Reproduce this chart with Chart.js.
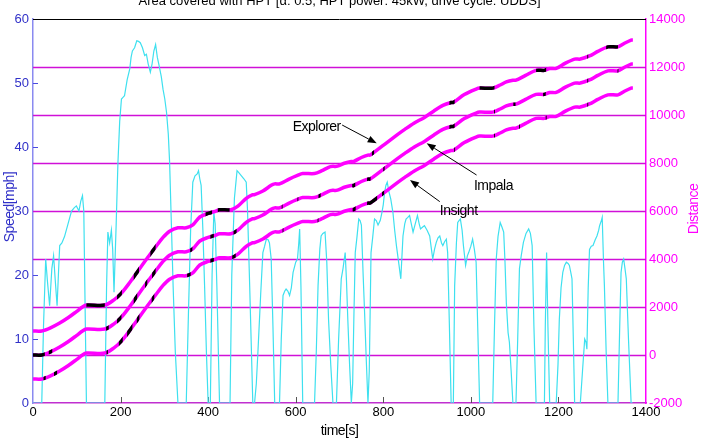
<!DOCTYPE html>
<html>
<head>
<meta charset="utf-8">
<script src="https://cdn.jsdelivr.net/npm/chart.js@4"></script>
<style>
	html, body { margin: 0; padding: 0; background: #fff; }
	#wrap { width: 702px; height: 440px; position: relative; }
</style>
</head>
<body>
<div id="wrap"><canvas id="hptChart"></canvas></div>
<script>
// speed trace of the UDDS cycle, [time s, speed mph]
const speedCycle = [
	[0,0],[20,0],[24,12],[29,22.5],[33,19],[38,15.2],[43,21],[47,23],[51,19],[55,15.2],
	[58,20],[61,24.6],[66,25],[72,26],[80,28],[88,30],[94,30.5],[99,30.8],[105,30],[109,31.5],
	[113,32.4],[116,30],[119,15],[122,0],[164,0],[168,18],[171,26.7],[175,25],[179,27],[182,24],
	[185,17.3],[190,28],[194,37.6],[198,44],[202,47.5],[206,47.8],[209,48],[215,50.5],[221,52.2],[224,54],
	[227,55],[232,55.5],[237,56.6],[241,56.5],[245,56.3],[250,55.5],[255,54.3],[259,54.5],[263,53],[268,51.7],
	[272,53],[276,55],[280,56],[284,54],[288,52.7],[293,51],[297,49],[301,47.5],[305,45.4],[309,42],
	[312,37.6],[316,28],[320,18.3],[325,8],[331,0],[350,0],[355,14],[360,27],[365,34.5],[370,35.5],
	[375,35.8],[378,36.3],[381,35],[384,34],[388,27],[392,18],[396,8],[400,0],[405,0],[409,20],
	[413,29.8],[416,28],[420,18],[426,0],[450,0],[454,20],[460,32],[466,36.3],[470,36],[476,35.5],
	[482,35],[487,34.5],[490,30],[495,18],[502,0],[506,0],[510,3],[514,8.4],[520,17],[525,23.5],
	[529,24.5],[533,25.6],[537,25.5],[540,25],[544,22.5],[548,12],[552,0],[563,0],[567,10],[571,16.8],
	[575,17.5],[578,17.8],[582,17.5],[586,16.8],[590,18],[594,20.4],[600,22],[604,22.5],[607,25],[609,27.2],
	[612,18],[616,0],[643,0],[647,8],[651,18.3],[655,24],[658,26.1],[662,26.5],[667,26.7],[671,22],
	[675,13],[680,6],[685,0],[693,0],[698,10],[704,19.4],[708,21],[713,23.5],[716,19],[719,13],
	[723,6],[727,0],[730,3],[733,14],[736,23.5],[740,26],[744,28.75],[747,28.5],[750,27.8],[754,20],
	[757,14.7],[761,7],[765,0],[768,5],[772,23.5],[776,26],[780,28.75],[784,28.5],[788,27.8],[793,28.5],
	[797,29.8],[800,31],[803,32.9],[806,34],[809,34.5],[813,33],[817,31.9],[822,29.8],[826,27],[830,24.6],
	[835,22],[840,19.4],[845,26.1],[849,28],[852,28.75],[856,29],[860,29.3],[864,28],[868,26.7],[873,28],
	[878,29.3],[882,28],[885,27.2],[890,27.5],[894,27.7],[900,27],[906,26.1],[910,24],[913,22.5],[917,24],
	[921,25.1],[925,25.8],[929,26.1],[933,25],[936,24.6],[940,25.2],[944,25.6],[947,23.5],[951,12],[955,0],
	[960,0],[963,18.3],[967,25],[970,28.2],[973,28.5],[976,28.75],[980,27],[983,24.6],[988,21.5],[992,23],
	[995,23.5],[1000,24.5],[1004,25.6],[1008,24],[1012,22],[1016,11],[1020,0],[1050,0],[1054,12],[1058,22.5],
	[1062,26],[1067,28.2],[1071,27.5],[1075,26.7],[1078,22],[1081,15.7],[1085,11],[1088,9.5],[1092,5],[1096,0],
	[1103,0],[1107,10],[1111,21],[1115,23],[1120,25.1],[1126,26.5],[1132,27.2],[1136,26.5],[1140,24.6],[1144,12],
	[1149,0],[1168,0],[1170,12],[1173,23.5],[1176,12],[1180,0],[1195,0],[1199,6],[1202,13],[1206,18],
	[1210,20.4],[1214,21.5],[1218,22],[1222,21.8],[1225,21.5],[1228,20.5],[1231,19.4],[1234,10],[1237,0],[1250,0],
	[1255,5],[1260,10],[1263,9.5],[1265,8.4],[1268,18],[1271,24],[1275,24.5],[1279,24.6],[1284,25.5],[1288,26.1],
	[1292,27],[1294,27.7],[1298,28.5],[1300,29],[1303,22],[1305,18.3],[1309,8],[1313,0],[1336,0],[1340,12],
	[1343,20.4],[1346,22],[1349,22.5],[1352,21],[1355,19.4],[1360,10],[1366,0],[1370,0]
];

// distance curves (right axis)
const distTime = [
	0, 20, 40, 60, 80, 100, 113, 122, 164, 185,
	202, 221, 237, 259, 280, 297, 312, 331, 350, 365,
	381, 400, 415, 426, 452, 468, 487, 502, 506, 525,
	544, 552, 563, 585, 604, 616, 643, 660, 675, 685,
	693, 713, 727, 732, 750, 765, 770, 803, 830, 849,
	870, 894, 915, 936, 955, 960, 985, 1012, 1020, 1050,
	1067, 1081, 1096, 1103, 1125, 1149, 1168, 1180, 1195, 1215,
	1237, 1250, 1271, 1290, 1313, 1336, 1350, 1366, 1370
];
const explorerDist = [
	1000, 1000, 1130, 1320, 1550, 1820, 2000, 2080, 2080, 2300,
	2580, 3020, 3430, 3990, 4500, 4900, 5160, 5300, 5300, 5420,
	5750, 5900, 5980, 6050, 6050, 6200, 6530, 6680, 6680, 6830,
	7070, 7130, 7130, 7330, 7480, 7560, 7560, 7680, 7820, 7860,
	7860, 8000, 8060, 8060, 8230, 8330, 8330, 8780, 9150, 9400,
	9660, 9900, 10160, 10400, 10520, 10520, 10850, 11080, 11120, 11120,
	11250, 11380, 11450, 11450, 11650, 11860, 11860, 11940, 11940, 12150,
	12330, 12330, 12460, 12650, 12840, 12840, 12980, 13120, 13120
];
const impalaDist = [
	0, 0, 130, 320, 550, 820, 1000, 1080, 1080, 1300,
	1580, 2020, 2430, 2990, 3500, 3900, 4160, 4300, 4300, 4420,
	4750, 4900, 4980, 5050, 5050, 5200, 5530, 5680, 5680, 5830,
	6070, 6130, 6130, 6330, 6480, 6560, 6560, 6680, 6820, 6860,
	6860, 7000, 7060, 7060, 7230, 7330, 7330, 7780, 8150, 8400,
	8660, 8900, 9160, 9400, 9520, 9520, 9850, 10080, 10120, 10120,
	10250, 10380, 10450, 10450, 10650, 10860, 10860, 10940, 10940, 11150,
	11330, 11330, 11460, 11650, 11840, 11840, 11980, 12120, 12120
];
const insightDist = [
	-1000, -1000, -870, -680, -450, -180, 0, 80, 80, 300,
	580, 1020, 1430, 1990, 2500, 2900, 3160, 3300, 3300, 3420,
	3750, 3900, 3980, 4050, 4050, 4200, 4530, 4680, 4680, 4830,
	5070, 5130, 5130, 5330, 5480, 5560, 5560, 5680, 5820, 5860,
	5860, 6000, 6060, 6060, 6230, 6330, 6330, 6780, 7150, 7400,
	7660, 7900, 8160, 8400, 8520, 8520, 8850, 9080, 9120, 9120,
	9250, 9380, 9450, 9450, 9650, 9860, 9860, 9940, 9940, 10150,
	10330, 10330, 10460, 10650, 10840, 10840, 10980, 11120, 11120
];

// time spans where the curve is drawn black (HPT on)
const explorerHpt = [[122,164],[192,203],[230,242],[268,280],[394,409],[422,449],[774,779],[951,963],[1020,1054],[1149,1172],[1266,1268],[1309,1336]];
const impalaHpt = [[0,27],[36,44],[167,173],[192,202],[230,238],[256,261],[272,280],[359,364],[405,413],[458,465],[568,570],[604,606],[652,657],[729,736],[763,771],[800,803],[951,963],[1053,1055],[1097,1102],[1165,1171],[1266,1268],[1335,1337]];
const insightHpt = [[24,29],[48,55],[168,171],[196,205],[215,227],[237,243],[271,277],[352,360],[405,413],[455,463],[570,572],[650,652],[730,737],[763,786],[797,802],[962,964],[1053,1055],[1110,1112],[1171,1173],[1266,1268]];

// labels with arrows: text anchor, arrow start, arrow tip (time, distance)
const notes = [
	{ text: 'Explorer', at: [593, 9500], from: [706, 9583], to: [785, 8820] },
	{ text: 'Impala', at: [1007, 7040], from: [1013, 7500], to: [899, 8820] },
	{ text: 'Insight', at: [929, 6000], from: [929, 6390], to: [861, 7290] }
];
const gridLevels = [0, 2000, 4000, 6000, 8000, 10000, 12000];

const FONT = '"Liberation Sans", Arial, sans-serif';
const MAGENTA = '#ff00ff';
const BLUE = '#3030c8';

const toPoints = (ts, vs) => ts.map((t, i) => ({ x: t, y: vs[i] }));

const hptClip = {
	id: 'hptClip',
	beforeDatasetDraw(chart, args) {
		const ds = chart.data.datasets[args.index];
		if (!ds.hpt) return;
		const { ctx, chartArea } = chart;
		const xs = chart.scales.x;
		ctx.save();
		ctx.beginPath();
		ds.hpt.forEach(([a, b]) => {
			const x0 = xs.getPixelForValue(a);
			const x1 = xs.getPixelForValue(b);
			ctx.rect(x0, chartArea.top, x1 - x0, chartArea.bottom - chartArea.top);
		});
		ctx.clip();
	},
	afterDatasetDraw(chart, args) {
		if (chart.data.datasets[args.index].hpt) chart.ctx.restore();
	}
};

const decorations = {
	id: 'decorations',
	beforeDatasetsDraw(chart) {
		const { ctx, chartArea: a, scales } = chart;
		ctx.save();
		// distance grid lines
		ctx.strokeStyle = '#d010d8';
		ctx.lineWidth = 1.6;
		gridLevels.forEach(v => {
			const y = Math.round(scales.y2.getPixelForValue(v)) + 0.5;
			ctx.beginPath(); ctx.moveTo(a.left, y); ctx.lineTo(a.right, y); ctx.stroke();
		});
		ctx.lineWidth = 1;
		// inward ticks, left axis
		ctx.strokeStyle = '#4a4ae0';
		[10, 20, 40, 50].forEach(v => {
			const y = Math.round(scales.y.getPixelForValue(v)) + 0.5;
			ctx.beginPath(); ctx.moveTo(a.left, y); ctx.lineTo(a.left + 5, y); ctx.stroke();
		});
		// inward ticks, bottom axis
		ctx.strokeStyle = '#555';
		[200, 400, 600, 800, 1000, 1200].forEach(v => {
			const x = Math.round(scales.x.getPixelForValue(v)) + 0.5;
			ctx.beginPath(); ctx.moveTo(x, a.bottom); ctx.lineTo(x, a.bottom - 6); ctx.stroke();
		});
		ctx.restore();
	},
	afterDraw(chart) {
		const { ctx, chartArea: a, scales } = chart;
		ctx.save();
		// top frame line
		ctx.strokeStyle = '#000';
		ctx.lineWidth = 1;
		ctx.beginPath(); ctx.moveTo(a.left, a.top + 0.5); ctx.lineTo(a.right, a.top + 0.5); ctx.stroke();

		// title, cut off by the top edge like in the original
		ctx.fillStyle = '#000';
		ctx.font = '13px ' + FONT;
		ctx.textAlign = 'center';
		ctx.textBaseline = 'alphabetic';
		ctx.fillText('Area covered with HPT [\u03b1: 0.5, HPT power: 45kW, drive cycle: UDDS]', (a.left + a.right) / 2, 5);

		// axis titles
		ctx.font = '14px ' + FONT;
		ctx.letterSpacing = '-0.5px';
		ctx.textBaseline = 'middle';
		ctx.fillText('time[s]', (a.left + a.right) / 2, 431);
		ctx.save();
		ctx.translate(10, 207);
		ctx.rotate(-Math.PI / 2);
		ctx.fillStyle = BLUE;
		ctx.fillText('Speed[mph]', 0, 0);
		ctx.restore();
		ctx.save();
		ctx.translate(694, 209);
		ctx.rotate(-Math.PI / 2);
		ctx.fillStyle = MAGENTA;
		ctx.fillText('Distance', 0, 0);
		ctx.restore();

		// annotations
		const px = p => [scales.x.getPixelForValue(p[0]), scales.y2.getPixelForValue(p[1])];
		notes.forEach(n => {
			const [tx, ty] = px(n.at);
			const [x0, y0] = px(n.from);
			const [x1, y1] = px(n.to);
			ctx.fillStyle = '#000';
			ctx.textAlign = 'left';
			ctx.fillText(n.text, tx, ty);
			const ang = Math.atan2(y1 - y0, x1 - x0);
			const hl = 9, hw = 3.5;
			const bx = x1 - hl * Math.cos(ang), by = y1 - hl * Math.sin(ang);
			ctx.strokeStyle = '#000';
			ctx.lineWidth = 1;
			ctx.beginPath(); ctx.moveTo(x0, y0); ctx.lineTo(bx, by); ctx.stroke();
			ctx.beginPath();
			ctx.moveTo(x1, y1);
			ctx.lineTo(bx + hw * Math.sin(ang), by - hw * Math.cos(ang));
			ctx.lineTo(bx - hw * Math.sin(ang), by + hw * Math.cos(ang));
			ctx.closePath();
			ctx.fill();
		});
		ctx.restore();
	}
};

function distSet(values, hpt) {
	const base = {
		data: toPoints(distTime, values),
		yAxisID: 'y2',
		borderWidth: 3.5,
		pointRadius: 0,
		tension: 0.3,
		fill: false
	};
	return [
		Object.assign({}, base, { borderColor: MAGENTA, order: 2 }),
		Object.assign({}, base, { data: toPoints(distTime, values), borderColor: '#000', hpt: hpt, order: 1 })
	];
}

Chart.defaults.font.family = FONT;
Chart.defaults.font.size = 13;

new Chart(document.getElementById('hptChart'), {
	type: 'line',
	data: {
		datasets: [
			{
				data: speedCycle.map(p => ({ x: p[0], y: p[1] })),
				yAxisID: 'y',
				borderColor: '#3ee0ef',
				borderWidth: 1.2,
				pointRadius: 0,
				tension: 0,
				order: 3
			},
			...distSet(explorerDist, explorerHpt),
			...distSet(impalaDist, impalaHpt),
			...distSet(insightDist, insightHpt)
		]
	},
	options: {
		responsive: true,
		maintainAspectRatio: false,
		animation: false,
		layout: { padding: { top: 19, left: 0, right: 0, bottom: 0 } },
		scales: {
			x: {
				type: 'linear',
				min: 0,
				max: 1400,
				afterFit: s => { s.height = 37; },
				grid: { display: false, drawTicks: false },
				border: { display: true, color: '#c030d0', width: 1.5 },
				ticks: { stepSize: 200, color: '#000', padding: 2, maxRotation: 0, autoSkip: false, callback: v => String(v) }
			},
			y: {
				position: 'left',
				min: 0,
				max: 60,
				afterFit: s => { s.width = 33; },
				grid: { display: false, drawTicks: false },
				border: { display: true, color: '#8a8af0', width: 1.5 },
				ticks: { stepSize: 10, color: BLUE, padding: 4, autoSkip: false, callback: v => String(v) }
			},
			y2: {
				position: 'right',
				min: -2000,
				max: 14000,
				afterFit: s => { s.width = 56; },
				grid: { display: false, drawTicks: false },
				border: { display: true, color: MAGENTA, width: 1.5 },
				ticks: { stepSize: 2000, color: MAGENTA, padding: 3, autoSkip: false, callback: v => String(v) }
			}
		},
		plugins: {
			legend: { display: false },
			tooltip: { enabled: false },
			title: { display: false }
		}
	},
	plugins: [hptClip, decorations]
});
</script>
</body>
</html>
